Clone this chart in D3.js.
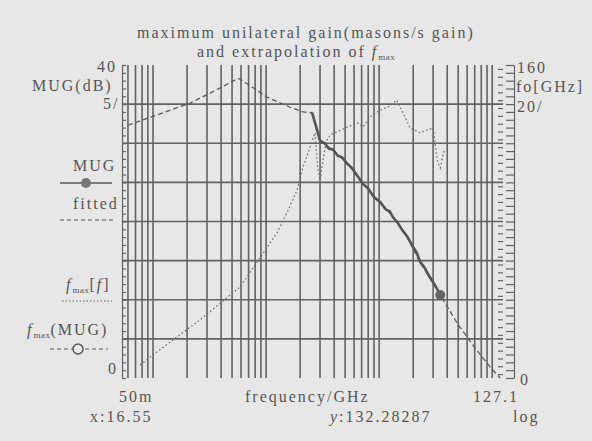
<!DOCTYPE html>
<html>
<head>
<meta charset="utf-8">
<script src="https://cdn.jsdelivr.net/npm/d3@7"></script>
<style>
  body { margin: 0; background: #e7e7e7; }
  svg text, svg tspan { font-family: "Liberation Serif", "Times New Roman", serif; fill: #555; letter-spacing: 2px; }
</style>
</head>
<body>
<div id="chart"></div>
<script>
// fitted MUG curve (dB) over frequency (GHz)
const fitFreq = [0.06, 0.21, 0.32, 0.565, 0.77, 1.02, 1.63, 2.12, 2.55, 2.8, 3.0, 3.9, 5.2, 7.2, 10.2, 13.3, 17.7, 23.1, 30.1, 34.7, 50, 70, 96, 117.5];
const fitDb = [32.3, 35.1, 36.4, 38.3, 37.1, 35.9, 34.6, 34.0, 33.9, 31.7, 30.4, 29.1, 27.5, 24.9, 22.4, 20.6, 18.0, 14.7, 12.1, 10.6, 6.8, 3.9, 1.4, 0];

// measured MUG (dB)
const mugFreq = [2.55, 2.8, 3.0, 3.3, 3.6, 3.9, 4.3, 4.7, 5.2, 5.7, 6.3, 7.2, 8.0, 9.0, 10.2, 11.5, 12.4, 13.3, 14.5, 16, 17.7, 19.5, 21.5, 23.1, 25, 27.5, 30.1, 32.5, 34.7];
const mugDb = [33.9, 31.9, 30.3, 30.0, 29.3, 29.2, 28.4, 28.2, 27.4, 26.9, 26.0, 24.8, 24.2, 23.1, 22.5, 21.5, 21.3, 20.5, 19.9, 18.9, 18.1, 17.0, 16.0, 14.8, 14.2, 13.1, 12.2, 11.4, 10.6];

// fmax[f] (GHz, right axis)
const fmaxFreq = [0.077, 0.108, 0.26, 0.59, 1.25, 1.57, 1.88, 2.12, 2.45, 2.71, 2.85, 3.0, 3.2, 3.4, 3.68, 5.0, 6.4, 7.2, 8.3, 10.2, 12.5, 14.3, 16.3, 18.8, 23.1, 26.6, 30.1, 32.6, 34.7, 37.6];
const fmaxGhz = [6.7, 13.3, 29.7, 46.6, 74.2, 85.9, 96.1, 107.9, 118.1, 125.3, 108, 101, 112, 121, 124.2, 127.8, 130.4, 128.3, 133.4, 137.0, 139.0, 142.1, 135.5, 127.8, 125.3, 126.8, 127.8, 111.5, 107.4, 116.6];

const gridFreqs = [0.06, 0.07, 0.08, 0.09, 0.1, 0.2, 0.3, 0.4, 0.5, 0.6, 0.7, 0.8, 0.9, 1, 2, 3, 4, 5, 6, 7, 8, 9, 10, 20, 30, 40, 50, 60, 70, 80, 90, 100];
const gridDb = [5, 10, 15, 20, 25, 30, 35];

const W = 592, H = 441;
const pTop = 65, pBottom = 378, pLeft = 122, pRight = 503, axisR = 514;
const ink = "#626262";
const fs = 16;

const svg = d3.select("#chart").append("svg").attr("width", W).attr("height", H);
svg.append("rect").attr("width", W).attr("height", H).attr("fill", "#e7e7e7");

const x = d3.scaleLog().domain([0.05, 127.1]).range([119, 504]);
const yL = d3.scaleLinear().domain([0, 40]).range([pBottom, pTop]);
const yR = d3.scaleLinear().domain([0, 160]).range([pBottom, pTop]);

// grid
svg.append("g").selectAll("line").data(gridFreqs).enter().append("line")
  .attr("x1", d => x(d)).attr("x2", d => x(d))
  .attr("y1", pTop).attr("y2", pBottom)
  .attr("stroke", ink).attr("stroke-width", 1.6);
svg.append("g").selectAll("line").data(gridDb).enter().append("line")
  .attr("x1", pLeft).attr("x2", pRight)
  .attr("y1", d => yL(d)).attr("y2", d => yL(d))
  .attr("stroke", ink).attr("stroke-width", 1.6);

// axes
const axL = svg.append("g").attr("transform", "translate(" + pLeft + ",0)")
  .call(d3.axisRight(yL).ticks(40).tickSize(4).tickFormat("").tickSizeOuter(0));
const axR = svg.append("g").attr("transform", "translate(" + axisR + ",0)")
  .call(d3.axisLeft(yR).tickValues(d3.range(0, 161, 4)).tickSize(8).tickFormat("").tickSizeOuter(0));
const axR2 = svg.append("g").attr("transform", "translate(" + (axisR - 11) + ",0)")
  .call(d3.axisLeft(yR).tickValues(d3.range(2, 160, 4)).tickSize(5).tickFormat("").tickSizeOuter(0));
axR2.select(".domain").remove();
[axL, axR, axR2].forEach(a => {
  a.selectAll("path,line").attr("stroke", ink).attr("stroke-width", 1.2);
});

// curves
const lineDb = d3.line().x(d => x(d[0])).y(d => yL(d[1]));
const lineG = d3.line().x(d => x(d[0])).y(d => yR(d[1]));

svg.append("path").datum(d3.zip(fitFreq, fitDb)).attr("d", lineDb)
  .attr("fill", "none").attr("stroke", "#5a5a5a").attr("stroke-width", 1.3)
  .attr("stroke-dasharray", "5,3");

svg.append("path").datum(d3.zip(fmaxFreq, fmaxGhz)).attr("d", lineG)
  .attr("fill", "none").attr("stroke", "#6a6a6a").attr("stroke-width", 1.3)
  .attr("stroke-dasharray", "1.5,2.5");

svg.append("path").datum(d3.zip(mugFreq, mugDb)).attr("d", lineDb)
  .attr("fill", "none").attr("stroke", "#555").attr("stroke-width", 2.6);
svg.append("circle").attr("cx", x(mugFreq[mugFreq.length - 1])).attr("cy", yL(mugDb[mugDb.length - 1]))
  .attr("r", 5).attr("fill", "#666");

// titles and labels
function txt(s, px, py) {
  return svg.append("text").attr("x", px).attr("y", py).attr("font-size", fs).text(s);
}
function fmax(t) {
  t.append("tspan").attr("font-style", "italic").text("f");
  t.append("tspan").attr("font-size", 9).attr("dy", 3).attr("style", "letter-spacing:0.5px").text("max");
}
txt("maximum unilateral gain(masons/s gain)", 137, 38);
const t2 = txt("", 197, 57);
t2.append("tspan").text("and extrapolation of ");
fmax(t2);

txt("40", 97, 72);
txt("MUG(dB)", 32, 91);
txt("5/", 103, 109);
txt("0", 108, 374);
txt("160", 517, 73);
txt("fo[GHz]", 516, 92);
txt("20/", 517, 112);
txt("0", 520, 385);

txt("50m", 119, 402);
txt("frequency/GHz", 245, 402);
txt("127.1", 473, 402);
txt("x:16.55", 90, 422);
const ty = txt("", 330, 422);
ty.append("tspan").attr("font-style", "italic").text("y");
ty.append("tspan").text(":132.28287");
txt("log", 513, 422);

// legend
txt("MUG", 73, 171);
svg.append("line").attr("x1", 60).attr("x2", 112).attr("y1", 183).attr("y2", 183)
  .attr("stroke", "#555").attr("stroke-width", 1.5);
svg.append("circle").attr("cx", 86).attr("cy", 183).attr("r", 5).attr("fill", "#777");
txt("fitted", 73, 209);
svg.append("line").attr("x1", 60).attr("x2", 115).attr("y1", 220).attr("y2", 220)
  .attr("stroke", "#555").attr("stroke-width", 1.2).attr("stroke-dasharray", "4,3");

const l3 = txt("", 66, 290);
fmax(l3);
l3.append("tspan").attr("dy", -3).text("[");
l3.append("tspan").attr("font-style", "italic").text("f");
l3.append("tspan").text("]");
svg.append("line").attr("x1", 62).attr("x2", 112).attr("y1", 301).attr("y2", 301)
  .attr("stroke", "#666").attr("stroke-width", 1.2).attr("stroke-dasharray", "1.5,2");

const l4 = txt("", 27, 335);
fmax(l4);
l4.append("tspan").attr("dy", -3).text("(MUG)");
svg.append("line").attr("x1", 50).attr("x2", 108).attr("y1", 349).attr("y2", 349)
  .attr("stroke", "#555").attr("stroke-width", 1.2).attr("stroke-dasharray", "4,3");
svg.append("circle").attr("cx", 78).attr("cy", 349).attr("r", 5)
  .attr("fill", "#e7e7e7").attr("stroke", "#555").attr("stroke-width", 1.5);
</script>
</body>
</html>
